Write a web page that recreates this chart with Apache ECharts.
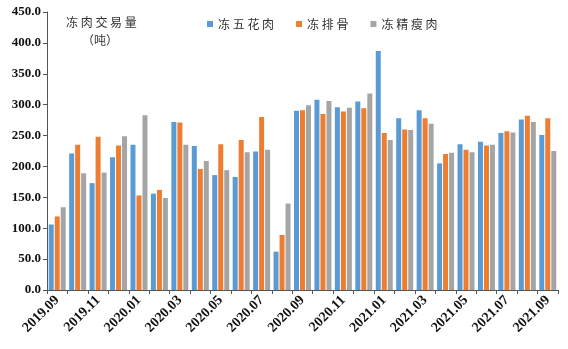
<!DOCTYPE html>
<html><head><meta charset="utf-8">
<script src="https://cdn.jsdelivr.net/npm/echarts@6/dist/echarts.min.js"></script>
<style>html,body{margin:0;padding:0;background:#fff}#c{width:568px;height:349px}</style>
</head><body><div id="c"></div>
<script>
const categories = ['2019.09','2019.10','2019.11','2019.12','2020.01','2020.02','2020.03','2020.04','2020.05','2020.06','2020.07','2020.08','2020.09','2020.10','2020.11','2020.12','2021.01','2021.02','2021.03','2021.04','2021.05','2021.06','2021.07','2021.08','2021.09'];
const porkBelly = [106,221,173,215,235,156,272,233,186,183,224,62,290,308,296,305,387,278,291,205,236,240,254,276,251];
const ribs = [119,235,248,234,153,162,271,196,236,243,280,89,291,285,289,294,254,260,278,220,227,234,257,282,278];
const leanMeat = [134,189,190,249,283,149,235,209,194,223,227,140,299,306,295,318,243,259,269,222,223,235,255,272,225];
const seriesNames = ['冻五花肉','冻排骨','冻精瘦肉'];
const colors = ['#5B9BD5','#ED7D31','#A5A5A5'];

const chart = echarts.init(document.getElementById('c'));
const serif = '"Liberation Serif","Times New Roman",serif';
const cjk = '"Noto Sans CJK SC",sans-serif';
chart.setOption({
  animation:false,
  color:colors,
  grid:{left:47,right:10,top:12,bottom:59,containLabel:false},
  graphic:[
    {type:'text',left:66,top:16,style:{text:'冻 肉 交 易 量',fontFamily:cjk,fontSize:12,fill:'#333'}},
    {type:'text',left:82,top:34,style:{text:'（吨）',fontFamily:cjk,fontSize:12,fill:'#333'}}
  ],
  legend:{top:13,left:202,itemWidth:6,itemHeight:6,itemGap:22,icon:'rect',
    textStyle:{fontFamily:cjk,fontSize:12,color:'#333'},
    formatter:n=>n.split('').join(' '),data:seriesNames},
  xAxis:{type:'category',data:categories,
    axisLine:{lineStyle:{color:'#555',width:1}},
    axisTick:{show:true,alignWithLabel:false,interval:0,length:4,lineStyle:{color:'#555'}},
    axisLabel:{interval:1,rotate:45,fontFamily:serif,fontWeight:'bold',fontSize:14,color:'#111',margin:8}},
  yAxis:{type:'value',min:0,max:450,interval:50,
    axisLine:{show:true,lineStyle:{color:'#555'}},
    axisTick:{show:true,length:4,lineStyle:{color:'#555'}},
    splitLine:{show:false},
    axisLabel:{formatter:v=>v.toFixed(1),fontFamily:serif,fontWeight:'bold',fontSize:13,color:'#111',margin:6}},
  series:[
    {name:seriesNames[0],type:'bar',data:porkBelly,barWidth:5,barGap:'20%'},
    {name:seriesNames[1],type:'bar',data:ribs,barWidth:5,barGap:'20%'},
    {name:seriesNames[2],type:'bar',data:leanMeat,barWidth:5,barGap:'20%'}
  ]
});
</script></body></html>
